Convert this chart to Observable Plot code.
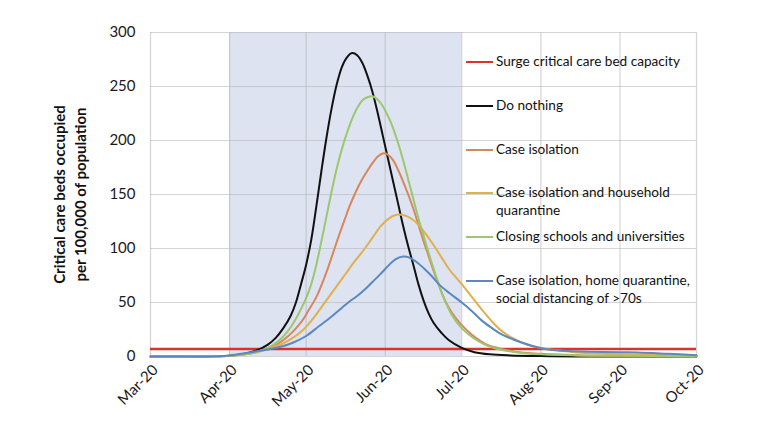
<!DOCTYPE html>
<html>
<head>
<meta charset="utf-8">
<script src="https://cdn.jsdelivr.net/npm/d3@7"></script>
<script src="https://cdn.jsdelivr.net/npm/@observablehq/plot@0.6"></script>
<style>
  body { margin: 0; background: #fff; font-family: Lato, "Open Sans", sans-serif; }
  #chart { position: relative; width: 767px; height: 422px; }
  #legend { position: absolute; left: 466px; top: 52px; font-size: 13.6px; color: #111; }
  .item { display: flex; align-items: flex-start; height: 43.8px; }
  .swatch { width: 27px; height: 0; border-top: 2.5px solid; margin-top: 9px; margin-right: 3px; flex: none; }
  .label { line-height: 18px; white-space: pre; }
</style>
</head>
<body>
<div id="chart"><div id="legend"></div></div>
<script>
// Modelled critical care demand per 100,000 population, Mar–Oct 2020
const surgeCapacity = 7;
const interventionPeriod = ["2020-04-01", "2020-07-01"];
const yTicks = [0, 50, 100, 150, 200, 250, 300];
const monthTicks = ["2020-03-01", "2020-04-01", "2020-05-01", "2020-06-01", "2020-07-01", "2020-08-01", "2020-09-01", "2020-10-01"];

const doNothing = [
  ["2020-03-01", 0], ["2020-03-25", 0.2], ["2020-04-01", 0.8], ["2020-04-07", 2.5], ["2020-04-12", 6],
  ["2020-04-16", 11], ["2020-04-19", 17], ["2020-04-22", 26], ["2020-04-25", 38], ["2020-04-27", 50],
  ["2020-04-29", 67], ["2020-05-01", 85], ["2020-05-03", 108], ["2020-05-05", 139], ["2020-05-07", 172],
  ["2020-05-09", 203], ["2020-05-11", 230], ["2020-05-13", 252], ["2020-05-15", 268], ["2020-05-17", 277],
  ["2020-05-19", 281], ["2020-05-21", 279], ["2020-05-23", 272], ["2020-05-25", 260], ["2020-05-27", 245],
  ["2020-05-29", 226], ["2020-05-31", 205], ["2020-06-02", 184], ["2020-06-04", 163], ["2020-06-06", 142],
  ["2020-06-08", 121], ["2020-06-10", 102], ["2020-06-12", 85], ["2020-06-14", 67], ["2020-06-16", 52],
  ["2020-06-18", 40], ["2020-06-20", 31], ["2020-06-23", 22], ["2020-06-26", 15], ["2020-07-01", 8],
  ["2020-07-06", 4], ["2020-07-12", 2], ["2020-07-20", 1], ["2020-08-01", 0.4], ["2020-08-15", 0.1],
  ["2020-10-01", 0]
];
const caseIsolation = [
  ["2020-03-01", 0], ["2020-03-25", 0.2], ["2020-04-01", 0.7], ["2020-04-07", 2], ["2020-04-12", 4.5],
  ["2020-04-16", 8], ["2020-04-20", 12], ["2020-04-24", 19], ["2020-04-27", 26], ["2020-04-30", 35],
  ["2020-05-02", 43], ["2020-05-05", 55], ["2020-05-08", 72], ["2020-05-10", 85], ["2020-05-12", 99],
  ["2020-05-14", 113], ["2020-05-16", 126], ["2020-05-18", 139], ["2020-05-20", 150], ["2020-05-22", 160],
  ["2020-05-25", 172], ["2020-05-27", 179], ["2020-05-29", 185], ["2020-05-31", 188], ["2020-06-02", 187],
  ["2020-06-04", 182], ["2020-06-06", 173], ["2020-06-08", 162], ["2020-06-10", 150], ["2020-06-12", 137],
  ["2020-06-14", 122], ["2020-06-16", 107], ["2020-06-18", 93], ["2020-06-20", 79], ["2020-06-22", 66],
  ["2020-06-24", 54], ["2020-06-27", 41], ["2020-07-01", 29], ["2020-07-05", 20], ["2020-07-10", 12],
  ["2020-07-15", 8], ["2020-07-22", 4.5], ["2020-08-01", 2.5], ["2020-08-15", 1.2], ["2020-09-01", 0.7],
  ["2020-10-01", 0.3]
];
const householdQuarantine = [
  ["2020-03-01", 0], ["2020-03-25", 0.2], ["2020-04-01", 0.7], ["2020-04-07", 2], ["2020-04-12", 4],
  ["2020-04-16", 7], ["2020-04-20", 10], ["2020-04-25", 16], ["2020-04-30", 25], ["2020-05-04", 36],
  ["2020-05-08", 49], ["2020-05-12", 62], ["2020-05-16", 75], ["2020-05-20", 88], ["2020-05-24", 100],
  ["2020-05-27", 110], ["2020-05-30", 120], ["2020-06-02", 127], ["2020-06-05", 131], ["2020-06-08", 131],
  ["2020-06-11", 128], ["2020-06-14", 122], ["2020-06-17", 113], ["2020-06-20", 103], ["2020-06-23", 92],
  ["2020-06-26", 81], ["2020-07-01", 67], ["2020-07-05", 55], ["2020-07-09", 43], ["2020-07-13", 32],
  ["2020-07-17", 23], ["2020-07-21", 17], ["2020-07-25", 12.5], ["2020-07-29", 9.5], ["2020-08-02", 7.5],
  ["2020-08-08", 5.5], ["2020-08-15", 3.8], ["2020-08-25", 2.6], ["2020-09-08", 1.8], ["2020-10-01", 0.7]
];
const closingSchools = [
  ["2020-03-01", 0], ["2020-03-25", 0.2], ["2020-04-01", 0.7], ["2020-04-07", 2], ["2020-04-12", 4.5],
  ["2020-04-16", 8], ["2020-04-20", 14], ["2020-04-24", 24], ["2020-04-27", 35], ["2020-04-29", 44],
  ["2020-05-01", 54], ["2020-05-03", 67], ["2020-05-05", 85], ["2020-05-07", 107], ["2020-05-09", 130],
  ["2020-05-11", 153], ["2020-05-13", 174], ["2020-05-15", 192], ["2020-05-17", 207], ["2020-05-19", 220],
  ["2020-05-21", 230], ["2020-05-23", 237], ["2020-05-25", 240], ["2020-05-27", 241], ["2020-05-29", 238],
  ["2020-05-31", 232], ["2020-06-02", 223], ["2020-06-04", 212], ["2020-06-06", 198], ["2020-06-08", 182],
  ["2020-06-10", 164], ["2020-06-12", 146], ["2020-06-14", 128], ["2020-06-16", 112], ["2020-06-18", 96],
  ["2020-06-20", 81], ["2020-06-22", 67], ["2020-06-24", 54], ["2020-06-27", 39], ["2020-07-01", 26],
  ["2020-07-05", 18], ["2020-07-10", 11], ["2020-07-15", 7], ["2020-07-22", 4], ["2020-08-01", 2],
  ["2020-08-15", 1], ["2020-09-01", 0.6], ["2020-10-01", 0.3]
];
const distancingOver70 = [
  ["2020-03-01", 0], ["2020-03-27", 0.3], ["2020-04-01", 1], ["2020-04-07", 3], ["2020-04-12", 5],
  ["2020-04-16", 6.5], ["2020-04-21", 9], ["2020-04-26", 13], ["2020-05-01", 19], ["2020-05-06", 28],
  ["2020-05-11", 37], ["2020-05-15", 45], ["2020-05-18", 51], ["2020-05-21", 56], ["2020-05-24", 62],
  ["2020-05-27", 69], ["2020-05-30", 76], ["2020-06-01", 81], ["2020-06-03", 86], ["2020-06-05", 90],
  ["2020-06-08", 92.5], ["2020-06-10", 92], ["2020-06-13", 88], ["2020-06-16", 82], ["2020-06-19", 75],
  ["2020-06-22", 67], ["2020-06-26", 59], ["2020-07-01", 50], ["2020-07-05", 42], ["2020-07-09", 33],
  ["2020-07-13", 26], ["2020-07-17", 20], ["2020-07-21", 16], ["2020-07-25", 12.5], ["2020-07-29", 9.5],
  ["2020-08-04", 6.5], ["2020-08-12", 5], ["2020-08-20", 4.5], ["2020-09-01", 4], ["2020-09-08", 3.8],
  ["2020-09-20", 2.5], ["2020-10-01", 1.2]
];

const seriesNames = [
  "Surge critical care bed capacity",
  "Do nothing",
  "Case isolation",
  "Case isolation and household\nquarantine",
  "Closing schools and universities",
  "Case isolation, home quarantine,\nsocial distancing of >70s"
];
const seriesColors = ["#dd3229", "#111111", "#d6875c", "#e0b04c", "#9cc66f", "#5b88c1"];
const seriesValues = [null, doNothing, caseIsolation, householdQuarantine, closingSchools, distancingOver70];

const parse = (s) => new Date(s + "T00:00:00Z");
const toRows = (pairs) => pairs.map(([d, v]) => ({date: parse(d), value: v}));
const yDomain = [yTicks[0], yTicks[yTicks.length - 1]];
const ticksX = monthTicks.map(parse);

const lineMarks = seriesValues
  .map((vals, i) => vals && Plot.line(toRows(vals), {
    x: "date", y: "value", stroke: seriesColors[i], strokeWidth: 2, curve: "catmull-rom"
  }))
  .filter(Boolean);

const chart = Plot.plot({
  width: 767,
  height: 422,
  marginLeft: 150,
  marginRight: 71,
  marginTop: 32,
  marginBottom: 66,
  style: {fontFamily: "Lato, 'Open Sans', sans-serif", fontSize: "15px", color: "#1a1a1a", background: "#fff"},
  x: {type: "utc", domain: [ticksX[0], ticksX[ticksX.length - 1]]},
  y: {domain: yDomain},
  marks: [
    Plot.rect([{start: parse(interventionPeriod[0]), end: parse(interventionPeriod[1]), lo: yDomain[0], hi: yDomain[1]}],
      {x1: "start", x2: "end", y1: "lo", y2: "hi", fill: "#dde3f0"}),
    Plot.gridY({ticks: yTicks, stroke: "#b2b2b2", strokeOpacity: 0.55, strokeWidth: 1.2}),
    Plot.gridX({ticks: ticksX, stroke: "#b2b2b2", strokeOpacity: 0.55, strokeWidth: 1.2}),
    Plot.axisY({ticks: yTicks, tickSize: 0, tickPadding: 15, label: null, fontSize: 15}),
    Plot.axisX({ticks: ticksX, tickSize: 0, tickPadding: 11, dx: 5, tickRotate: -45, label: null, fontSize: 15,
      tickFormat: d3.utcFormat("%b-%y")}),
    Plot.text(["Critical care beds occupied\nper 100,000 of population"], {
      frameAnchor: "left", textAnchor: "middle", dx: -82, rotate: -90,
      fontWeight: "bold", fontSize: 15, lineHeight: 1.4, fill: "#111"
    }),
    Plot.ruleY([surgeCapacity], {stroke: seriesColors[0], strokeWidth: 2.5}),
    ...lineMarks
  ]
});
document.getElementById("chart").prepend(chart);

// Legend drawn over the right part of the plot area
const legend = d3.select("#legend");
seriesNames.forEach((name, i) => {
  const item = legend.append("div").attr("class", "item");
  item.append("div").attr("class", "swatch").style("border-color", seriesColors[i]);
  item.append("div").attr("class", "label").text(name);
});
</script>
</body>
</html>
